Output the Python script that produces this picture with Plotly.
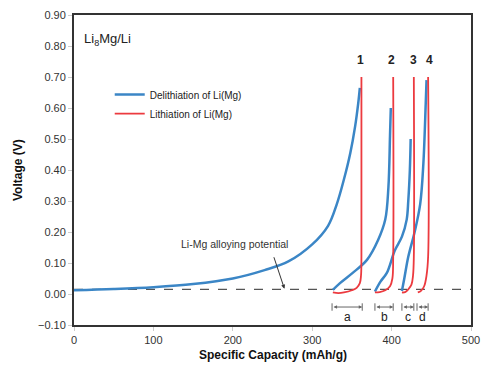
import plotly.graph_objects as go

# ---- data (capacity mAh/g, voltage V) ----
deli1_x = [0, 50, 100, 150, 200, 240, 270, 300, 320, 331, 340, 348, 354, 358, 360]
deli1_v = [0.012, 0.016, 0.022, 0.032, 0.050, 0.077, 0.105, 0.160, 0.220, 0.290, 0.370, 0.455, 0.540, 0.616, 0.665]
lith1_x = [326, 333, 340, 350, 356, 360, 361.5, 362, 362]
lith1_v = [0.005, 0.003, 0.005, 0.012, 0.020, 0.035, 0.060, 0.120, 0.700]

deli2_x = [326, 335, 351, 369, 383, 392, 396, 398, 399]
deli2_v = [0.013, 0.035, 0.068, 0.110, 0.174, 0.240, 0.345, 0.510, 0.600]
lith2_x = [379, 385, 392, 398, 401, 402, 402]
lith2_v = [0.005, 0.006, 0.012, 0.025, 0.050, 0.120, 0.700]

deli3_x = [379, 386, 394, 404, 413, 419, 421, 423, 424]
deli3_v = [0.008, 0.040, 0.068, 0.140, 0.185, 0.240, 0.300, 0.400, 0.500]
lith3_x = [413, 417, 421, 425, 427, 428, 428]
lith3_v = [0.005, 0.006, 0.015, 0.030, 0.060, 0.120, 0.700]

deli4_x = [413, 416, 421, 429, 436, 440, 443, 444]
deli4_v = [0.010, 0.050, 0.120, 0.200, 0.290, 0.420, 0.615, 0.690]
lith4_x = [433, 437, 441, 444, 446, 446]
lith4_v = [0.005, 0.010, 0.025, 0.060, 0.120, 0.700]

cycle_labels = ["1", "2", "3", "4"]
cycle_label_x = [361, 400, 427, 448]
cycle_label_v = 0.725

bracket_names = ["a", "b", "c", "d"]
bracket_start = [325, 379, 413, 432]
bracket_end = [363, 402, 428, 446]
bracket_v = -0.042
bracket_label_v = -0.074

alloy_potential = 0.015
x_ticks = [0, 100, 200, 300, 400, 500]
y_ticks = [-0.10, 0.00, 0.10, 0.20, 0.30, 0.40, 0.50, 0.60, 0.70, 0.80, 0.90]

BLUE = "#3b86c6"
RED = "#ec3a3f"
FONT = "Liberation Sans, Arial, sans-serif"

fig = go.Figure()

# dashed alloying potential line
fig.add_trace(go.Scatter(x=[0, 500], y=[alloy_potential, alloy_potential], mode="lines",
                         line=dict(color="#555555", width=1.2, dash="dash"), showlegend=False,
                         hoverinfo="skip"))

deli = [(deli1_x, deli1_v), (deli2_x, deli2_v), (deli3_x, deli3_v), (deli4_x, deli4_v)]
lith = [(lith1_x, lith1_v), (lith2_x, lith2_v), (lith3_x, lith3_v), (lith4_x, lith4_v)]

for i, (x, v) in enumerate(deli):
    fig.add_trace(go.Scatter(x=x, y=v, mode="lines", line=dict(color=BLUE, width=2.5, shape="spline"),
                             name="Delithiation of Li(Mg)", showlegend=(i == 0), legendgroup="d"))
for i, (x, v) in enumerate(lith):
    fig.add_trace(go.Scatter(x=x, y=v, mode="lines", line=dict(color=RED, width=1.8, shape="spline"),
                             name="Lithiation of Li(Mg)", showlegend=(i == 0), legendgroup="l"))

annotations = []
for t, x in zip(cycle_labels, cycle_label_x):
    annotations.append(dict(x=x, y=cycle_label_v, text="<b>%s</b>" % t, showarrow=False,
                            font=dict(family=FONT, size=12, color="#222222"), yanchor="bottom"))

shapes = []
for name, s, e in zip(bracket_names, bracket_start, bracket_end):
    annotations.append(dict(x=e, y=bracket_v, ax=s, ay=bracket_v, axref="x", ayref="y",
                            xref="x", yref="y", text="", showarrow=True, arrowhead=2,
                            arrowside="end+start", arrowsize=0.7, arrowwidth=1, arrowcolor="#666666"))
    for xx in (s, e):
        shapes.append(dict(type="line", xref="x", yref="y", x0=xx, x1=xx,
                           y0=bracket_v - 0.012, y1=bracket_v + 0.012,
                           line=dict(color="#666666", width=1)))
    annotations.append(dict(x=(s + e) / 2, y=bracket_label_v, text=name, showarrow=False,
                            font=dict(family=FONT, size=12, color="#222222")))

# alloying potential label + arrow
annotations.append(dict(x=202, y=0.160, xref="x", yref="y", text="Li-Mg alloying potential",
                        showarrow=False, font=dict(family=FONT, size=10.5, color="#333333")))
annotations.append(dict(x=265, y=alloy_potential + 0.002, ax=-11, ay=-33, text="", showarrow=True,
                        arrowhead=2, arrowsize=0.8, arrowwidth=1, arrowcolor="#333333"))

# sample label
annotations.append(dict(x=0.02, y=0.955, xref="paper", yref="paper", text="Li<sub>8</sub>Mg/Li",
                        showarrow=False, xanchor="left", yanchor="top",
                        font=dict(family=FONT, size=13, color="#222222")))

# axis titles
annotations.append(dict(x=0.5, y=-0.097, xref="paper", yref="paper",
                        text="<b>Specific Capacity (mAh/g)</b>", showarrow=False,
                        xanchor="center", yanchor="middle",
                        font=dict(family=FONT, size=12, color="#111111")))
annotations.append(dict(x=-0.141, y=0.5, xref="paper", yref="paper",
                        text="<b>Voltage (V)</b>", showarrow=False, textangle=-90,
                        xanchor="center", yanchor="middle",
                        font=dict(family=FONT, size=12, color="#111111")))

fig.update_layout(
    width=486, height=367,
    margin=dict(l=74, r=15, t=15, b=42),
    paper_bgcolor="white", plot_bgcolor="white",
    font=dict(family=FONT, size=11, color="#333333"),
    showlegend=True,
    legend=dict(x=0.09, y=0.79, xanchor="left", yanchor="top", bgcolor="rgba(0,0,0,0)",
                font=dict(family=FONT, size=10, color="#222222"), itemwidth=30, tracegroupgap=0),
    annotations=annotations,
    shapes=shapes,
)
fig.update_xaxes(range=[0, 500], tickvals=x_ticks, ticks="outside", ticklen=4, tickcolor="#cccccc",
                 showline=True, linecolor="#333333", linewidth=2, mirror=True, showgrid=False,
                 zeroline=False, automargin=False)
fig.update_yaxes(range=[-0.10, 0.90], tickvals=y_ticks, tickformat=".2f", ticks="outside", ticklen=4,
                 tickcolor="#cccccc", showline=True, linecolor="#333333", linewidth=2, mirror=True,
                 showgrid=False, zeroline=False, automargin=False)

fig.write_html("out.html")
